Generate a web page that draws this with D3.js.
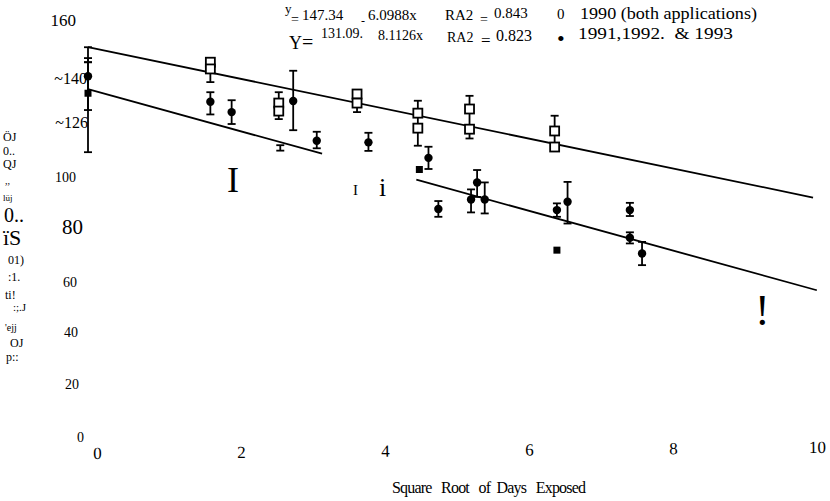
<!DOCTYPE html>
<html>
<head>
<meta charset="utf-8">
<script src="https://cdn.jsdelivr.net/npm/d3@7"></script>
<style>
  html, body { margin: 0; padding: 0; background: #fff; }
  svg { display: block; font-family: 'Liberation Serif', 'DejaVu Serif', serif; }
</style>
</head>
<body>
<svg id="chart" width="830" height="501"></svg>
<script>
// tick labels as printed on the scan
const xTickValues = [0, 2, 4, 6, 8, 10];
const yTickValues = [160, 140, 120, 100, 80, 60, 40, 20, 0];
const yTickLabels = ['160', '~140', '~126', '100', '80', '60', '40', '20', '0'];
const xTitle = 'Square   Root   of  Days   Exposed';

// fits: y = a + b * sqrt(days)
const fitIntercept = [147.34, 131.09];
const fitSlope = [-6.0988, -8.1126];

// 1990 (both applications) - open squares
const x1990 = [1.61, 1.61, 2.51, 2.51, 3.54, 3.54, 4.34, 4.34, 5.02, 5.02, 6.14, 6.14];
const y1990 = [141.5, 138.9, 125.7, 122.6, 129.2, 125.7, 121.8, 116.0, 123.4, 115.6, 114.9, 108.7];
const errX1990 = [0, 1.61, 2.51, 3.54, 4.34, 5.02, 6.14];
const errHi1990 = [147.3, 141.5, 129.9, 125.7, 126.6, 128.5, 120.8];
const errLo1990 = [141.5, 133.8, 119.5, 122.2, 109.2, 112.0, 108.7];

// 1991, 1992 & 1993 - filled circles
const x9193 = [0, 1.61, 1.89, 2.70, 3.01, 3.69, 4.48, 4.61, 5.04, 5.12, 5.22, 6.17, 6.31, 7.13, 7.13, 7.29];
const y9193 = [136.1, 126.2, 122.2, 126.5, 111.1, 110.5, 104.5, 84.7, 88.4, 95.0, 88.4, 84.3, 87.5, 84.3, 73.6, 67.5];
const xBlock = [0, 4.36, 6.17];
const yBlock = [129.5, 100.0, 68.8];
const errX9193 = [0, 0, 1.61, 1.89, 2.53, 2.70, 3.01, 3.69, 4.48, 4.61, 5.04, 5.12, 5.22, 6.17, 6.31, 7.13, 7.13, 7.29];
const errHi9193 = [143.1, 141.5, 129.9, 126.8, 109.4, 138.2, 114.6, 114.2, 108.8, 87.8, 92.3, 99.8, 95.0, 86.9, 95.2, 87.1, 75.7, 72.0];
const errLo9193 = [123.0, 106.7, 121.3, 117.6, 107.3, 115.2, 108.2, 107.2, 100.2, 81.7, 83.4, 89.4, 83.0, 81.7, 79.1, 82.0, 71.4, 63.0];

const svg = d3.select('#chart');
svg.append('rect').attr('width', 830).attr('height', 501).attr('fill', '#fff');

// data scales (fitted from the plotted lines)
const x = d3.scaleLinear().domain([0, 10]).range([88, 848]);
const y = d3.scaleLinear().domain([0, 160]).range([428, 14.4]);

// label scales (the printed ticks sit slightly off the data frame)
const xLab = d3.scaleLinear().domain([0, 10]).range([97, 817]);
const yLab = d3.scaleLinear().domain([0, 160]).range([437, 20]);

// regression lines
const fitLine = (a, b) => d3.line().x(d => x(d)).y(d => y(a + b * d));
const lines = svg.append('g').attr('class', 'fits')
  .attr('fill', 'none').attr('stroke', '#000').attr('stroke-width', 1.8);
lines.append('path').attr('d', fitLine(fitIntercept[0], fitSlope[0])([0, 9.54]));
lines.append('path').attr('d', fitLine(fitIntercept[1], fitSlope[1])([0, 3.08]));
lines.append('path').attr('d', fitLine(fitIntercept[1], fitSlope[1])([4.32, 9.59]));

// error bars
const drawErr = (xs, hi, lo) => {
  const g = svg.append('g').attr('stroke', '#000').attr('stroke-width', 1.8);
  const rows = xs.map((d, i) => ({ x: d, hi: hi[i], lo: lo[i] }));
  g.selectAll('.stem').data(rows).join('line').attr('class', 'stem')
    .attr('x1', d => x(d.x)).attr('x2', d => x(d.x))
    .attr('y1', d => y(d.hi)).attr('y2', d => y(d.lo));
  g.selectAll('.cap').data(rows.flatMap(d => [[d.x, d.hi], [d.x, d.lo]])).join('line').attr('class', 'cap')
    .attr('x1', d => x(d[0]) - 4).attr('x2', d => x(d[0]) + 4)
    .attr('y1', d => y(d[1])).attr('y2', d => y(d[1]));
};
drawErr(errX1990, errHi1990, errLo1990);
drawErr(errX9193, errHi9193, errLo9193);

// open squares
svg.append('g').selectAll('rect')
  .data(x1990.map((d, i) => [d, y1990[i]]))
  .join('rect')
  .attr('x', d => x(d[0]) - 4.5).attr('y', d => y(d[1]) - 4.5)
  .attr('width', 9).attr('height', 9)
  .attr('fill', '#fff').attr('stroke', '#000').attr('stroke-width', 1.8);

// filled circles
svg.append('g').selectAll('circle')
  .data(x9193.map((d, i) => [d, y9193[i]]))
  .join('circle')
  .attr('cx', d => x(d[0])).attr('cy', d => y(d[1]))
  .attr('r', 4.2).attr('fill', '#000');

// filled blocks (overprinted points)
svg.append('g').selectAll('rect')
  .data(xBlock.map((d, i) => [d, yBlock[i]]))
  .join('rect')
  .attr('x', d => x(d[0]) - 3.5).attr('y', d => y(d[1]) - 3.5)
  .attr('width', 7).attr('height', 7).attr('fill', '#000');

// y tick labels
const yStyle = {
  '160': [17, -4, 0], '~140': [16, 7, 6], '~126': [16, 8, -2], '100': [14, -4, 1],
  '80': [21, 3, -2], '60': [14, -3, 1], '40': [14, -2, -1], '20': [14, -1, -1], '0': [14, 4, 0]
};
const yAxis = svg.append('g').attr('transform', 'translate(80,0)')
  .call(d3.axisLeft(yLab).tickValues(yTickValues)
    .tickFormat((d, i) => yTickLabels[i]).tickSize(0).tickPadding(0));
yAxis.select('.domain').remove();
yAxis.selectAll('text')
  .attr('fill', '#000')
  .style('font-family', 'Liberation Serif, serif')
  .style('font-size', (d, i) => yStyle[yTickLabels[i]][0] + 'px')
  .attr('dx', (d, i) => yStyle[yTickLabels[i]][1])
  .attr('y', (d, i) => yStyle[yTickLabels[i]][2]);

// x tick labels (scan is a little tilted)
const xAxis = svg.append('g').attr('transform', 'translate(0,447) rotate(-0.48,97,0)')
  .call(d3.axisBottom(xLab).tickValues(xTickValues).tickSize(0).tickPadding(0));
xAxis.select('.domain').remove();
xAxis.selectAll('text')
  .attr('fill', '#000')
  .style('font-family', 'Liberation Serif, serif')
  .style('font-size', '17px');

svg.append('text')
  .attr('x', 392).attr('y', 493)
  .attr('textLength', 194).attr('lengthAdjust', 'spacing')
  .style('font-size', '16px').attr('xml:space', 'preserve')
  .text(xTitle);

// fit equations and legend, set as they appear in the scan
const notes = [
  ['y', 285, 13, 13], ['=', 291, 24, 14], ['147.34', 302, 20, 15], ['-', 361, 25, 12],
  ['6.0988x', 368, 20, 15], ['RA2', 445, 20, 15], ['=', 480, 24, 14], ['0.843', 494, 18, 15],
  ['0', 557, 19, 15],
  ['Y', 289, 49, 18], ['=', 302, 49, 20], ['131.09.', 321, 38, 14], ['8.1126x', 378, 40, 14],
  ['RA2', 447, 42, 14], ['=', 481, 46, 17], ['0.823', 496, 41, 16], ['\u2022', 557, 46, 22]
];
svg.append('g').selectAll('text').data(notes).join('text')
  .attr('x', d => d[1]).attr('y', d => d[2])
  .style('font-size', d => d[3] + 'px')
  .text(d => d[0]);

const legendLabels = ['1990 (both applications)', '1991,1992.  & 1993'];
svg.append('g').selectAll('text').data(legendLabels).join('text')
  .attr('x', (d, i) => [580, 578][i]).attr('y', (d, i) => [19, 39][i])
  .attr('textLength', (d, i) => [177, 155][i]).attr('lengthAdjust', 'spacingAndGlyphs')
  .attr('xml:space', 'preserve')
  .style('font-size', '17px')
  .text(d => d);

// rotated axis title, as it came through the scan
const sideText = [
  ['\u00d6J', 3, 141, 12], ['0..', 3, 155, 12], ['QJ', 3, 168, 12], [',,', 5, 184, 10],
  ['l\u00fcj', 3, 201, 9], ['0..', 4, 222, 20], ['\u00efS', 3, 245, 22],
  ['01)', 8, 264, 12], [':1.', 8, 281, 12], ['ti!', 5, 299, 12], [':;.J', 13, 311, 11],
  ["'ejj", 5, 331, 10], ['OJ', 10, 347, 12], ['p::', 6, 361, 12]
];
svg.append('g').selectAll('text').data(sideText).join('text')
  .attr('x', d => d[1]).attr('y', d => d[2])
  .style('font-size', d => d[3] + 'px')
  .text(d => d[0]);

// stray marks in the plot area
const strays = [['I', 227, 192, 36], ['I', 353, 195, 15], ['i', 379, 196, 26], ['!', 755, 325, 44]];
svg.append('g').selectAll('text').data(strays).join('text')
  .attr('x', d => d[1]).attr('y', d => d[2])
  .style('font-size', d => d[3] + 'px')
  .text(d => d[0]);
</script>
</body>
</html>
